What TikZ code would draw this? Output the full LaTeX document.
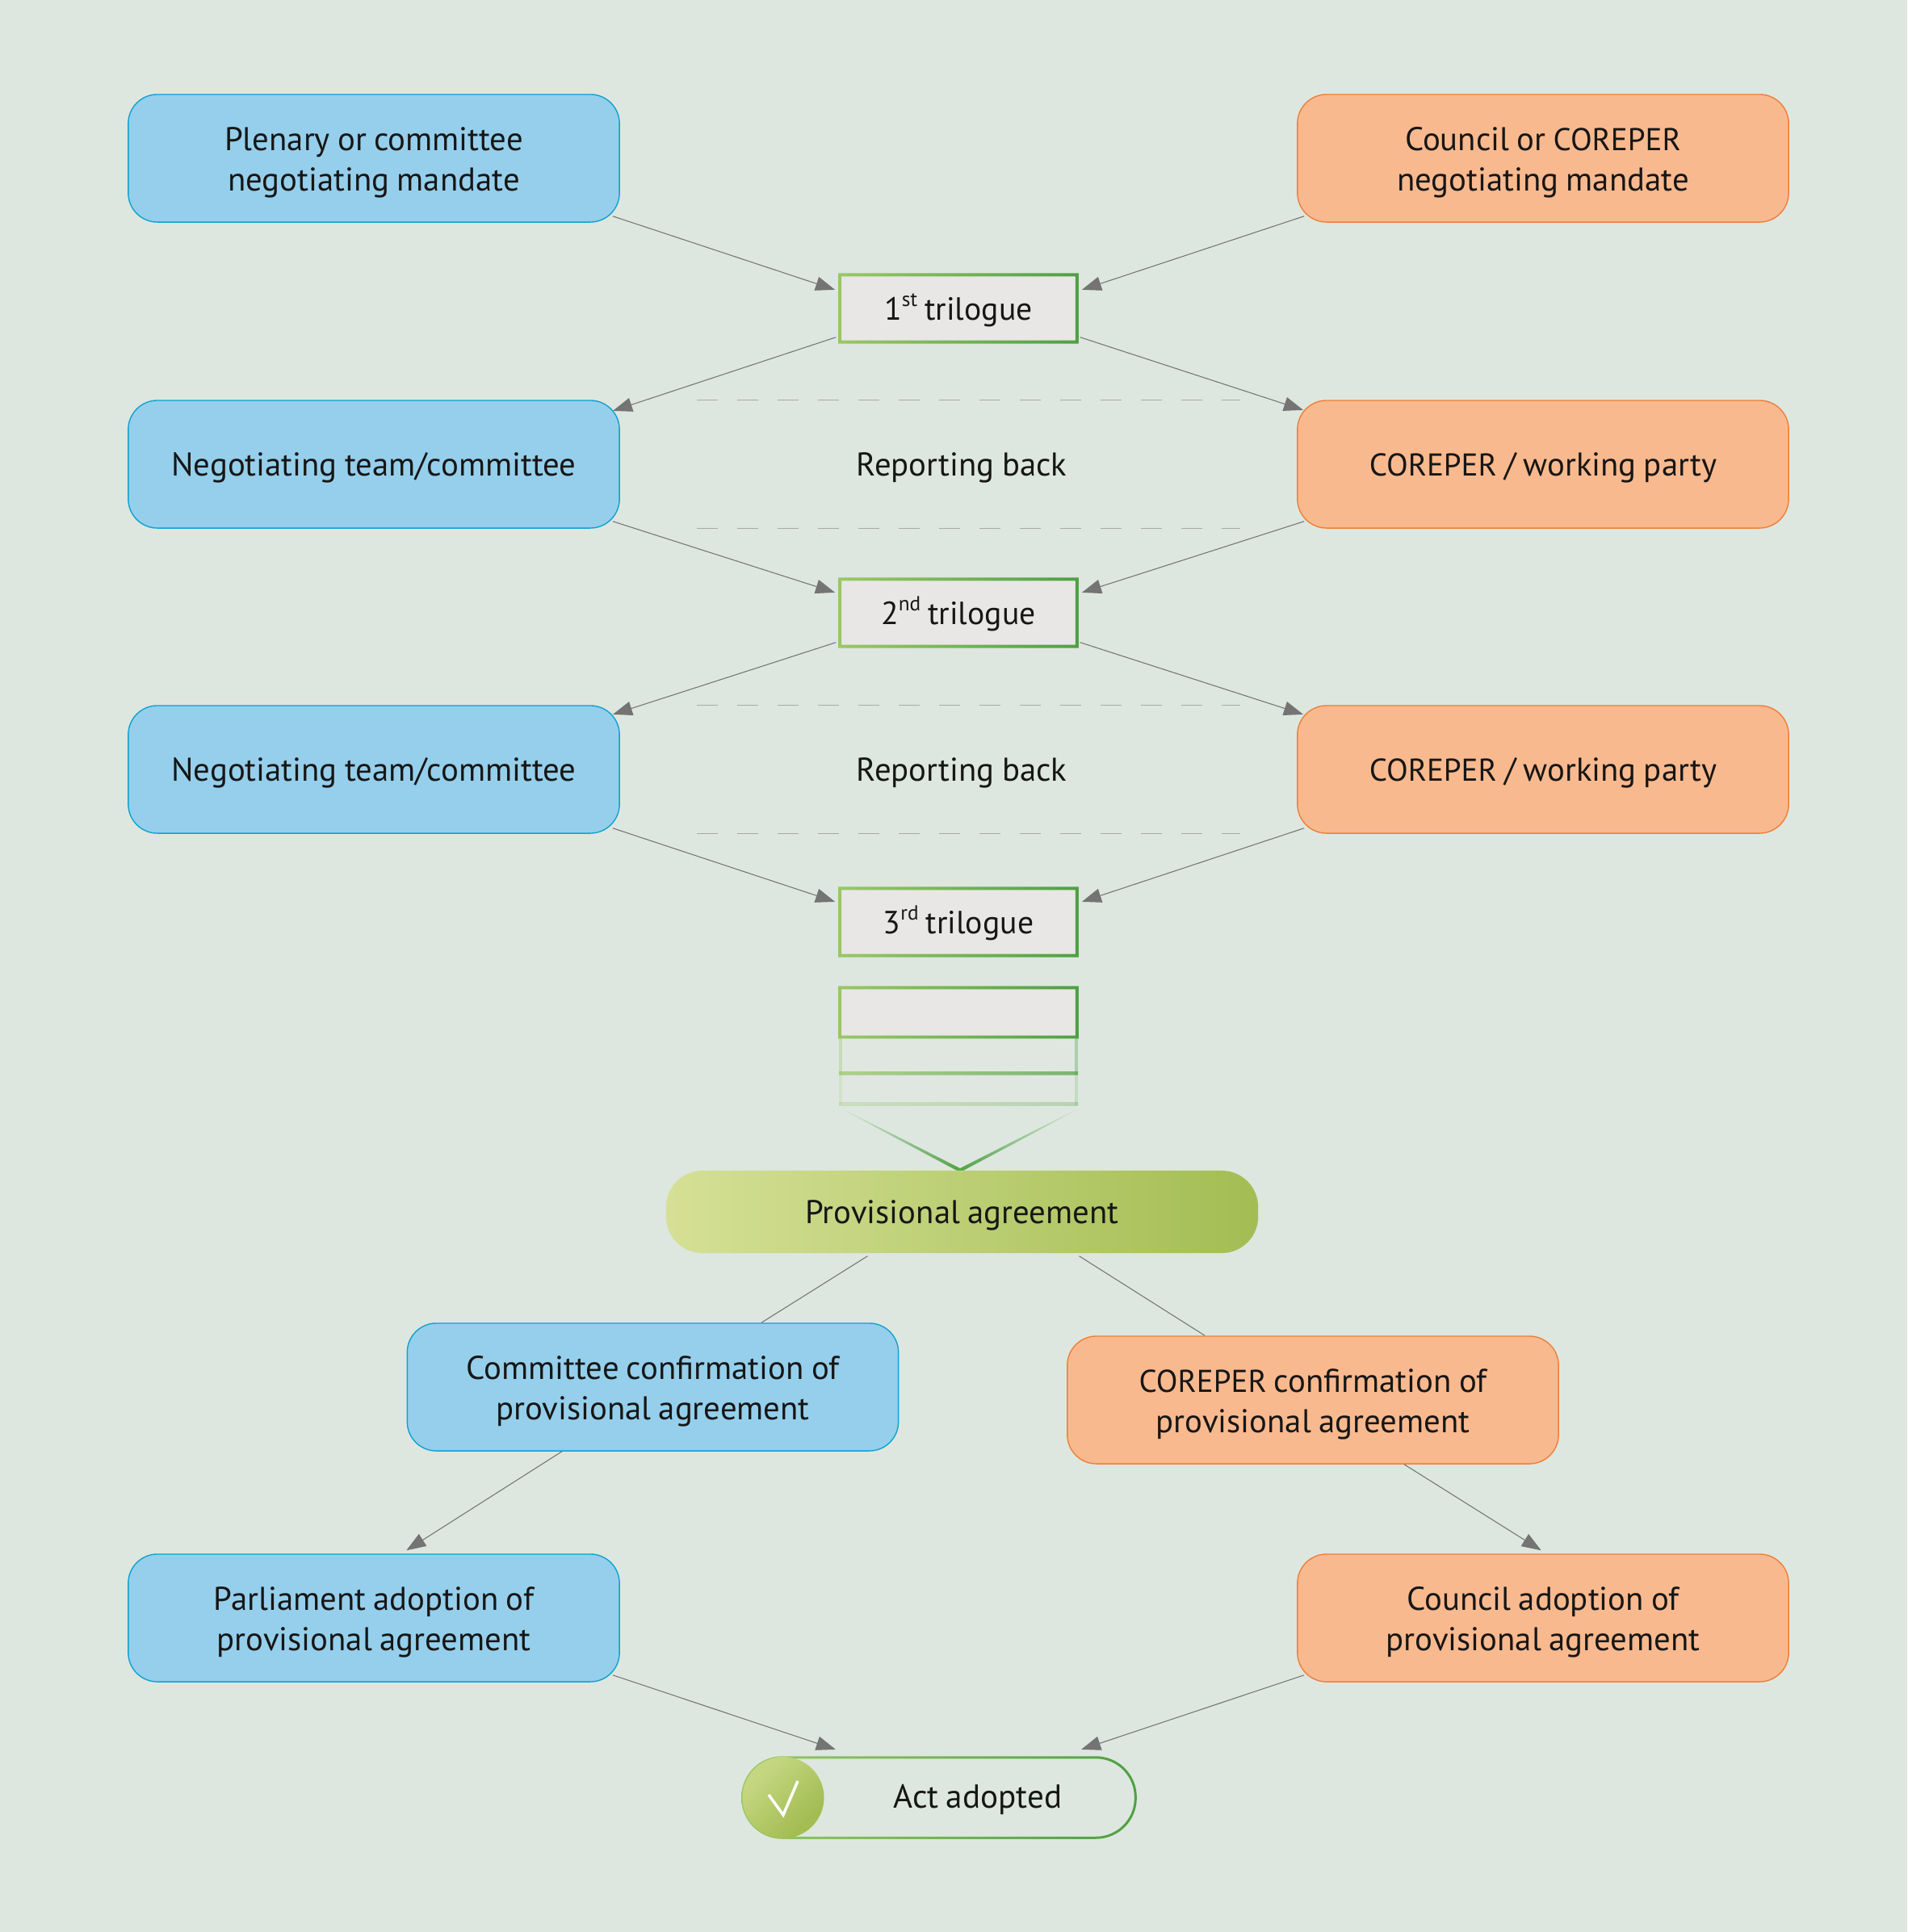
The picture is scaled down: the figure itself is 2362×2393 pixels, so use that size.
\documentclass[tikz,border=0pt]{standalone}
\usepackage{fontspec}
\setmainfont[WordSpace=.85]{PT Sans}
\usetikzlibrary{arrows.meta}

\definecolor{bgcol}{HTML}{DDE7DF}
\definecolor{bluefill}{HTML}{95CFEC}
\definecolor{blueline}{HTML}{0FA2D0}
\definecolor{orangefill}{HTML}{F9B98E}
\definecolor{orangeline}{HTML}{EE7F3A}
\definecolor{greyfill}{HTML}{E8E7E5}
\definecolor{greenlight}{HTML}{9AC766}
\definecolor{greendark}{HTML}{4FA044}
\definecolor{limelight}{HTML}{D5E096}
\definecolor{limedark}{HTML}{A3BD53}
\definecolor{checklight}{HTML}{C5D680}
\definecolor{arrowgrey}{HTML}{737473}
\definecolor{dashgrey}{HTML}{A6AAA5}
\definecolor{inkcol}{HTML}{161615}

\pgfdeclareverticalshading{checkshade}{100bp}{color(0bp)=(limedark); color(30bp)=(limedark); color(70bp)=(checklight); color(100bp)=(checklight)}

\tikzset{
  evenbase/.style={execute at begin node={\rule{0pt}{.39cm}}, execute at end node={\rule[-.1cm]{0pt}{.1cm}}},
  twoline/.style={execute at begin node={\rule{0pt}{.91cm}}},
  mandate/.style={minimum width=6.08cm, minimum height=1.58cm, inner sep=0pt, rounded corners=.36cm, line width=.4pt, align=center, text=inkcol, evenbase, font=\fontsize{11.6}{14.2}\selectfont},
  bluebox/.style={mandate, draw=blueline, fill=bluefill},
  orangebox/.style={mandate, draw=orangeline, fill=orangefill},
  trilogue/.style={minimum width=2.96cm, minimum height=.86cm, inner sep=0pt, fill=greyfill, text=inkcol, evenbase, font=\fontsize{11.3}{14.2}\selectfont},
  plainlabel/.style={inner sep=0pt, text=inkcol, evenbase, font=\fontsize{11.6}{14.2}\selectfont},
  greenshade/.style={left color=greenlight, right color=greendark},
  flow/.style={draw=arrowgrey, line width=.3pt, shorten >=-.02cm, -{Triangle[length=.24cm, width=.175cm]}, arrowgrey},
  flowend/.style={draw=arrowgrey, line width=.3pt},
  report/.style={draw=dashgrey, line width=.35pt, dash pattern=on .26cm off .24cm}
}

\newcommand{\greenframe}[1]{\shade [greenshade, even odd rule] (#1.south west) rectangle (#1.north east) ([shift={(4,-4)}]#1.south west) rectangle ([shift={(-4,4)}]#1.north east);}
\newcommand{\corep}{{\fontsize{11.1}{14.2}\selectfont COREPER}}
\newcommand{\ordsup}[1]{\raisebox{.42em}{\fontsize{7.2}{8}\selectfont #1}}

\begin{document}
\begin{tikzpicture}[x=.01cm, y=-.01cm]
    \fill [bgcol] (0,0) rectangle (2362,2393);

    % left and right columns
    \node (plenary) at (463,196) [bluebox, twoline] {Plenary or committee\\negotiating mandate};
    \node (council) at (1911,196) [orangebox, twoline] {Council or \corep\\negotiating mandate};
    \node (teamA) at (463,575) [bluebox] {Negotiating team/committee};
    \node (partyA) at (1911,575) [orangebox] {\corep{} / working party};
    \node (teamB) at (463,953) [bluebox] {Negotiating team/committee};
    \node (partyB) at (1911,953) [orangebox] {\corep{} / working party};
    \node (confL) at (808.5,1718) [bluebox, twoline] {Committee confirmation of\\provisional agreement};
    \node (confR) at (1626,1734) [orangebox, twoline] {\corep{} confirmation of\\provisional agreement};
    \node (adoptL) at (463,2004) [bluebox, twoline] {Parliament adoption of\\provisional agreement};
    \node (adoptR) at (1911,2004) [orangebox, twoline] {Council adoption of\\provisional agreement};

    % trilogues
    \node (triA) at (1187,382) [trilogue] {1\ordsup{st} trilogue};
    \node (triB) at (1187,759) [trilogue] {2\ordsup{nd} trilogue};
    \node (triC) at (1187,1142) [trilogue] {3\ordsup{rd} trilogue};
    \greenframe{triA}
    \greenframe{triB}
    \greenframe{triC}

    \node (backA) at (1191,575) [plainlabel] {Reporting back};
    \node (backB) at (1191,953) [plainlabel] {Reporting back};

    % dashed lines of the reporting back
    \foreach \lft/\rgt in {teamA/partyA, teamB/partyB} {
        \draw [report] ([xshift=.95cm]\lft.north east) -- ([xshift=-.7cm]\rgt.north west);
        \draw [report] ([xshift=.95cm]\lft.south east) -- ([xshift=-.7cm]\rgt.south west);
    }

    % stack under the last trilogue
    \node (stack) at (1187,1254) [trilogue, minimum height=.64cm] {};
    \greenframe{stack}
    \foreach \ya/\yb/\fillop/\sideop/\lineop in {1286/1331/.35/.35/.7, 1331/1369/.25/.18/.28} {
        \fill [greyfill, opacity=\fillop] (1039,\ya) rectangle (1335,\yb);
        \fill [greenlight, opacity=\sideop] (1039,\ya) rectangle (1043,\yb);
        \fill [greendark, opacity=\sideop] (1331,\ya) rectangle (1335,\yb);
        \shade [greenshade, opacity=\lineop] (1039,\yb-4) rectangle (1335,\yb);
    }
    \shade [top color=bgcol, bottom color=greendark] (1039,1372) -- (1189,1452) -- (1339,1372) -- (1337,1372) -- (1189,1447) -- (1041,1372) -- cycle;

    \node (provisional) at (1191.5,1501) [trilogue, font=\fontsize{11.6}{14.2}\selectfont, minimum width=7.33cm, minimum height=1.02cm, rounded corners=.45cm, left color=limelight, right color=limedark] {Provisional agreement};

    % act adopted
    \node (act) at (1163,2226.5) [inner sep=0pt, text=inkcol, font=\fontsize{11.7}{14.2}\selectfont, execute at begin node={\rule{0pt}{.35cm}}, minimum width=4.88cm, minimum height=1.01cm] {\hspace{.96cm}Act adopted};
    \shade [greenshade, even odd rule] [rounded corners=.505cm] (act.south west) rectangle (act.north east) [rounded corners=.475cm] ([shift={(3,-3)}]act.south west) rectangle ([shift={(-3,3)}]act.north east);
    \shade [shading=checkshade, shading angle=45] (970,2226.5) circle (.505cm);
    \draw [white, line width=.035cm] (952,2223) -- (970,2248) -- (988,2206);

    % arrows
    \draw [flow] ([shift={(-9,-8)}]plenary.south east) -- ([shift={(-6,20)}]triA.north west);
    \draw [flow] ([shift={(9,-8)}]council.south west) -- ([shift={(6,20)}]triA.north east);
    \draw [flow] ([shift={(-3,-8)}]triA.south west) -- ([shift={(-7,13)}]teamA.north east);
    \draw [flow] ([shift={(2,-8)}]triA.south east) -- ([shift={(6,12)}]partyA.north west);
    \draw [flow] ([shift={(-9,-9)}]teamA.south east) -- ([shift={(-6,18)}]triB.north west);
    \draw [flow] ([shift={(9,-9)}]partyA.south west) -- ([shift={(6,18)}]triB.north east);
    \draw [flow] ([shift={(-3,-7)}]triB.south west) -- ([shift={(-7,11)}]teamB.north east);
    \draw [flow] ([shift={(2,-7)}]triB.south east) -- ([shift={(6,11)}]partyB.north west);
    \draw [flow] ([shift={(-9,-7)}]teamB.south east) -- ([shift={(-6,18)}]triC.north west);
    \draw [flow] ([shift={(9,-7)}]partyB.south west) -- ([shift={(6,18)}]triC.north east);
    \draw [flowend] ([shift={(-117,3)}]provisional.south) -- ([shift={(134.5,0)}]confL.north);
    \draw [flowend] ([shift={(145,3)}]provisional.south) -- ([shift={(171,0)}]confR.north west);
    \draw [flow] ([shift={(-112.5,0)}]confL.south) -- ([shift={(42,-5)}]adoptL.north);
    \draw [flow] ([shift={(113,0)}]confR.south) -- ([shift={(-4,-5)}]adoptR.north);
    \draw [flow] ([shift={(-9,-9)}]adoptL.south east) -- ([shift={(-130,-9)}]act.north);
    \draw [flow] ([shift={(9,-9)}]adoptR.south west) -- ([shift={(178,-9)}]act.north);
\end{tikzpicture}
\end{document}
